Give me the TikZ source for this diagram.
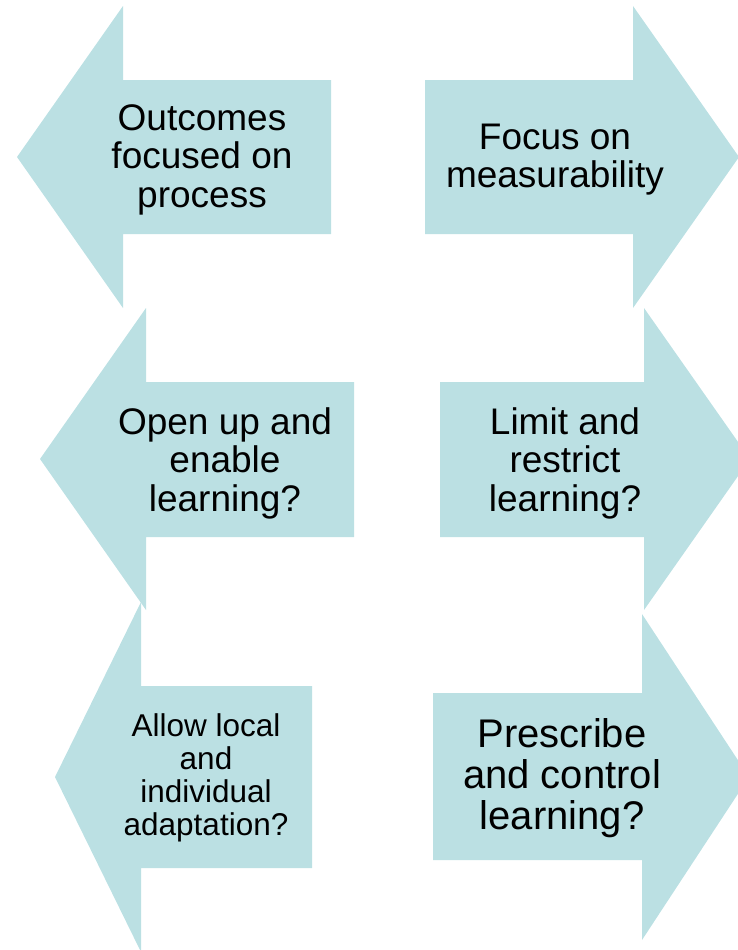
\documentclass[tikz,border=0pt]{standalone}
\usepackage{fontspec}
\setmainfont{Liberation Sans}
\definecolor{arrowfill}{RGB}{187,224,227}
\tikzset{
  arrowshape/.style={fill=arrowfill, draw=none},
  lbl/.style={align=center, inner sep=0pt, text=black},
  mainfont/.style={font=\fontsize{37}{38.5}\selectfont},
  smallfont/.style={font=\fontsize{31.5}{32.8}\selectfont},
  bigfont/.style={font=\fontsize{40}{41.3}\selectfont}
}
\begin{document}
\begin{tikzpicture}[x=1pt,y=-1pt]
\useasboundingbox (0,0) rectangle (738,950);
\clip (0,0) rectangle (738,950);
% arrows
\fill[arrowshape] (17,157) -- (123,6) -- (123,80) -- (331,80) -- (331,234) -- (123,234) -- (123,308) -- cycle;
\fill[arrowshape] (425,80) -- (633,80) -- (633,6) -- (739,157) -- (633,308) -- (633,234) -- (425,234) -- cycle;
\fill[arrowshape] (40,459) -- (146,308) -- (146,382) -- (354,382) -- (354,537) -- (146,537) -- (146,610) -- cycle;
\fill[arrowshape] (440,382) -- (644,382) -- (644,308) -- (750,459) -- (644,610) -- (644,537) -- (440,537) -- cycle;
\fill[arrowshape] (55,777) -- (141,602) -- (141,686) -- (312,686) -- (312,868) -- (141,868) -- (141,952) -- cycle;
\fill[arrowshape] (433,693) -- (642,693) -- (642,614) -- (749,777) -- (642,940) -- (642,860) -- (433,860) -- cycle;
% labels
\node[lbl, mainfont] (t1) at (202,159.5) {Outcomes\\focused on\\process};
\node[lbl, mainfont] (t2) at (555,159.5) {Focus on\\measurability};
\node[lbl, mainfont] (t3) at (225,463) {Open up and\\enable\\learning?};
\node[lbl, mainfont] (t4) at (565,463) {Limit and\\restrict\\learning?};
\node[lbl, smallfont] (t5) at (206,778) {Allow local\\and\\individual\\adaptation?};
\node[lbl, bigfont] (t6) at (562,778) {Prescribe\\and control\\learning?};
\end{tikzpicture}
\end{document}
